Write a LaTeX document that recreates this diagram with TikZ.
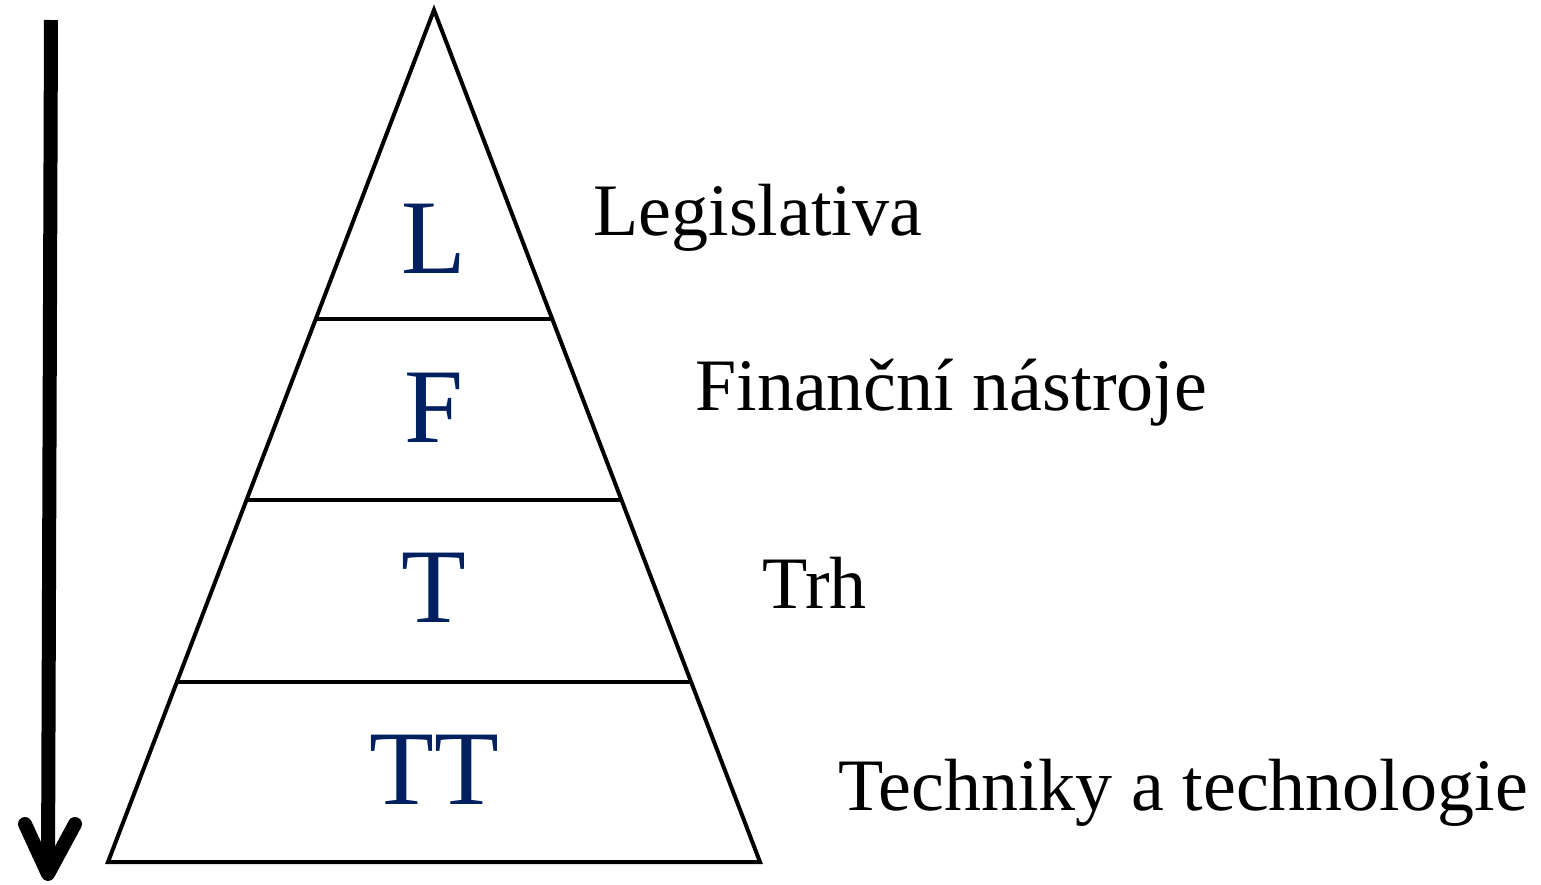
\documentclass[tikz,border=0pt]{standalone}
\usepackage{fontspec}
\setmainfont{Liberation Serif}
\usetikzlibrary{calc}
\definecolor{levelblue}{RGB}{0,32,96}
\tikzset{
  levelletter/.style={text=levelblue,font=\fontsize{53pt}{60pt}\selectfont,anchor=base,inner sep=0pt},
  levellabel/.style={text=black,font=\fontsize{37pt}{44pt}\selectfont,anchor=base west,inner sep=0pt},
  pyramidline/.style={line width=2pt,line join=miter}
}
\begin{document}
\begin{tikzpicture}[x=0.5pt,y=0.5pt,yscale=-1]
\useasboundingbox (0,0) rectangle (1541,884);

%Shape: Pyramid
\coordinate (apex) at (434,10);
\coordinate (botleft) at (108,862);
\coordinate (botright) at (760,862);
\draw [pyramidline] (apex) -- (botleft) -- (botright) -- cycle;

%Straight Lines (level borders)
\foreach \t/\n in {0.3627/one,0.5751/two,0.7887/three}{
  \coordinate (\n l) at ($(apex)!\t!(botleft)$);
  \coordinate (\n r) at ($(apex)!\t!(botright)$);
  \draw [pyramidline] (\n l) -- (\n r);
}

%Arrow (down)
\coordinate (arrtop) at (51,20);
\coordinate (arrtip) at (48,874);
\coordinate (wingl) at (25,824);
\coordinate (wingr) at (75,824);
\draw [line width=7pt] (arrtop) -- (arrtip);
\draw [line width=7pt,line cap=round,line join=round] (wingl) -- (arrtip) -- (wingr);

% Text Node
\node [levelletter] (letL) at (434,273) {L};
% Text Node
\node [levelletter] (letF) at (434,442) {F};
% Text Node
\node [levelletter] (letT) at (434,622) {T};
% Text Node
\node [levelletter] (letTT) at (434,804) {TT};

% Text Node
\node [levellabel] (legis) at (593,235) {Legislativa};
% Text Node
\node [levellabel] (finance) at (695,410) {Finanční nástroje};
% Text Node
\node [levellabel] (market) at (762,608) {Trh};
% Text Node
\node [levellabel] (tech) at (838,810) {Techniky a technologie};

\end{tikzpicture}
\end{document}
